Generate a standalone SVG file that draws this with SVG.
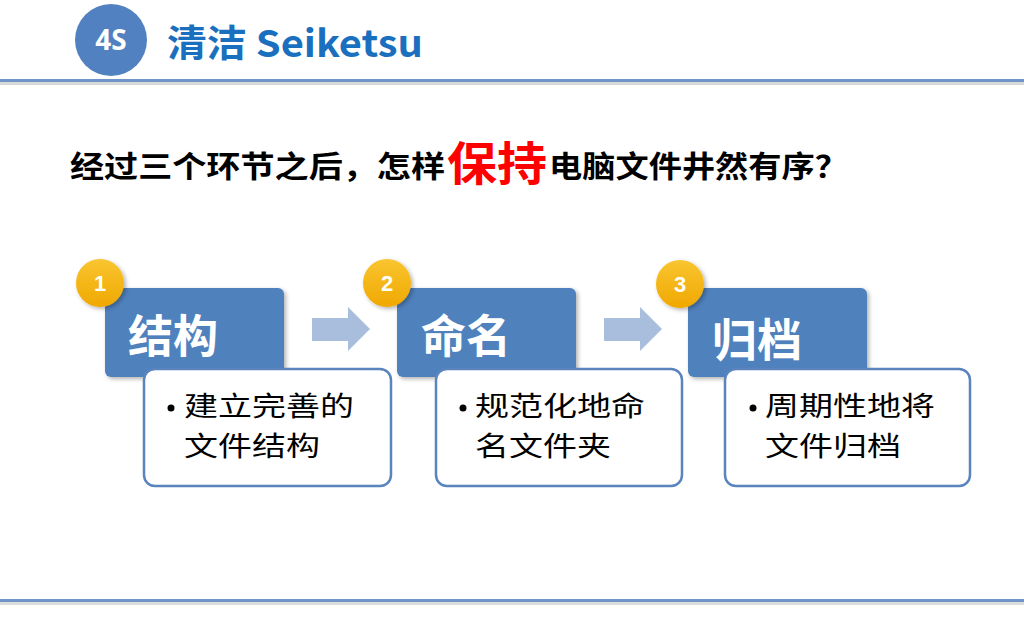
<svg xmlns="http://www.w3.org/2000/svg" width="1024" height="640" viewBox="0 0 1024 640">
<defs>
<style>
.cjk{font-family:"Microsoft YaHei","Noto Sans CJK SC","Noto Sans",sans-serif}
.hd{fill:#4f81bd}
.wb{fill:#fff;stroke:#5a84bd;stroke-width:2.5}
.num{font-family:"Liberation Sans",Arial,sans-serif;font-weight:bold;font-size:22px;fill:#fff;text-anchor:middle}
.ttl{font-size:45px;font-weight:bold;fill:#fff}
.body{font-size:27px;fill:#000}
.arr{fill:#a9bedc}
.q{font-size:30px;font-weight:bold;fill:#000}
</style>
<filter id="sh" x="-20%" y="-20%" width="150%" height="150%">
<feDropShadow dx="2" dy="2" stdDeviation="2" flood-color="#000" flood-opacity="0.3"/>
</filter>
<linearGradient id="gold" x1="0" y1="0" x2="0" y2="1">
<stop offset="0" stop-color="#f9c531"/>
<stop offset="1" stop-color="#f0a800"/>
</linearGradient>
</defs>
<rect width="1024" height="640" fill="#fff"/>
<g id="header">
<circle cx="111" cy="40" r="36" fill="#5181c0"/>
<text x="111" y="50" text-anchor="middle" font-family="'Open Sans','Liberation Sans',sans-serif" font-weight="bold" font-size="28" fill="#fff">4S</text>
<text x="167" y="57" class="cjk" font-weight="bold" font-size="37" fill="#1a6fbe" textLength="256" lengthAdjust="spacingAndGlyphs">清洁 Seiketsu</text>
<rect x="0" y="82" width="1024" height="3" fill="#d8d8d8"/>
<rect x="0" y="79" width="1024" height="3" fill="#6f94c7"/>
</g>
<g id="footer">
<rect x="0" y="602" width="1024" height="3" fill="#dcdcdc"/>
<rect x="0" y="599" width="1024" height="3" fill="#6f94c7"/>
</g>
<g id="question" class="cjk">
<text x="70" y="177" class="q" textLength="375" lengthAdjust="spacingAndGlyphs">经过三个环节之后，怎样</text>
<text x="447" y="180" font-size="46" font-weight="bold" fill="#ff0000" textLength="100" lengthAdjust="spacingAndGlyphs">保持</text>
<text x="549" y="177" class="q" textLength="299" lengthAdjust="spacingAndGlyphs">电脑文件井然有序？</text>
</g>
<g id="connectors">
<polygon class="arr" points="312,318 348,318 348,307 370,329 348,351 348,341 312,341"/>
<polygon class="arr" points="604,318 640,318 640,307 662,329 640,351 640,341 604,341"/>
</g>
<g id="step1" class="cjk">
<rect x="105" y="288" width="179" height="89" rx="6" class="hd" filter="url(#sh)"/>
<text x="128" y="353" class="ttl">结构</text>
<rect x="144" y="369" width="247" height="117" rx="11" class="wb"/>
<circle cx="171" cy="408" r="3.5" fill="#000"/>
<text class="body"><tspan x="184" y="416" textLength="170" lengthAdjust="spacingAndGlyphs">建立完善的</tspan><tspan x="184" y="456" textLength="136" lengthAdjust="spacingAndGlyphs">文件结构</tspan></text>
<circle cx="100" cy="283" r="24" fill="url(#gold)" filter="url(#sh)"/>
<text x="100" y="291" class="num">1</text>
</g>
<g id="step2" class="cjk">
<rect x="397" y="288" width="179" height="89" rx="6" class="hd" filter="url(#sh)"/>
<text x="421" y="353" class="ttl">命名</text>
<rect x="436" y="369" width="246" height="117" rx="11" class="wb"/>
<circle cx="463" cy="408" r="3.5" fill="#000"/>
<text class="body"><tspan x="475" y="416" textLength="170" lengthAdjust="spacingAndGlyphs">规范化地命</tspan><tspan x="475" y="456" textLength="136" lengthAdjust="spacingAndGlyphs">名文件夹</tspan></text>
<circle cx="387" cy="283" r="24" fill="url(#gold)" filter="url(#sh)"/>
<text x="387" y="291" class="num">2</text>
</g>
<g id="step3" class="cjk">
<rect x="688" y="288" width="179" height="89" rx="6" class="hd" filter="url(#sh)"/>
<text x="712" y="357" class="ttl">归档</text>
<rect x="725" y="369" width="245" height="117" rx="11" class="wb"/>
<circle cx="753" cy="408" r="3.5" fill="#000"/>
<text class="body"><tspan x="765" y="416" textLength="170" lengthAdjust="spacingAndGlyphs">周期性地将</tspan><tspan x="765" y="456" textLength="136" lengthAdjust="spacingAndGlyphs">文件归档</tspan></text>
<circle cx="680" cy="284" r="24" fill="url(#gold)" filter="url(#sh)"/>
<text x="680" y="292" class="num">3</text>
</g>
</svg>
